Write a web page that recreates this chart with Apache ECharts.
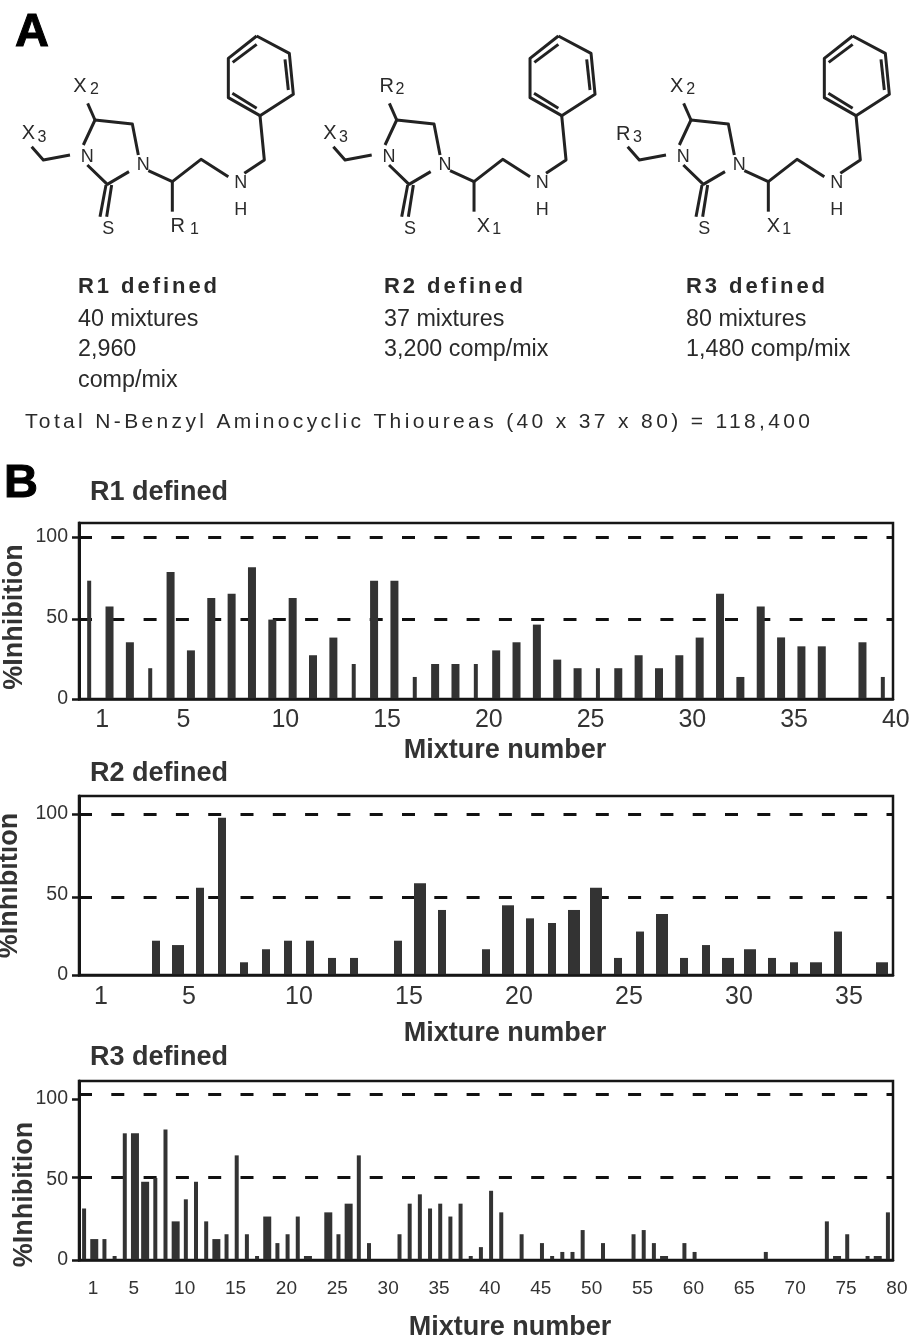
<!DOCTYPE html>
<html>
<head>
<meta charset="utf-8">
<style>html,body{margin:0;padding:0;background:#fff}#main{width:911px;height:1336px}</style>
<script src="https://cdn.jsdelivr.net/npm/echarts@6/dist/echarts.min.js"></script>
</head>
<body>
<div id="main"></div>
<script>
// ---- Data ----
const r1Values = [73,57,35,19,78.4,30,62.3,65,81.3,49,62.3,27,37.9,21.6,73,73,13.6,21.6,21.6,21.6,30,35,45.9,24.3,19,19,19,27,19,27,37.9,65,13.6,57,38,32.5,32.5,0,35,13.6];
const r2Values = [0,0,0,21.3,18.6,54.2,97.7,7.9,16,21.3,21.3,10.6,10.6,0,21.3,57,40.4,0,16,43.3,35.2,32.3,40.4,54.2,10.6,27,37.9,10.6,18.6,10.6,16,10.6,7.9,7.9,27,0,7.9];
const r3Values = [32,13,13,2.5,78.7,78.7,48.6,51,81,24,37.7,48.6,24,13,16,65,16,2.5,27,10.5,16,27,2.5,0,29.6,16,35,65,10.5,0,0,16,35,40.8,32,35,27,35,2.5,8,43,29.6,0,16,0,10.5,2.5,5,5,18.6,0,10.5,0,0,16,18.6,10.5,2.5,0,10.5,5,0,0,0,0,0,0,5,0,0,0,0,0,24,2.5,16,0,2.5,2.5,29.6];
const r1Alt = [1,4,14,17,20,26,40];
const r2Alt = [5,16,20,23,24,27,30,31,34,37];
const r3Alt = [2,6,7,10,14,19,23,25,27,58,75,79];
const r1Ticks = [1,5,10,15,20,25,30,35,40];
const r2Ticks = [1,5,10,15,20,25,30,35];
const r3Ticks = [1,5,10,15,20,25,30,35,40,45,50,55,60,65,70,75,80];
const yLabels = [0,50,100];
const r1Levels = [100,49];
const r2Levels = [100,48.5];
const r3Levels = [103,51.5];
const xName = 'Mixture number';
const yName = '%Inhibition';

// Letter-spaced captions of the figure (target widths in px)
const spaced = {
  'R1 defined':139,'R2 defined':139,'R3 defined':139,
  'Total N-Benzyl Aminocyclic Thioureas (40 x 37 x 80) = 118,400':785
};
const nativeFill = CanvasRenderingContext2D.prototype.fillText;
CanvasRenderingContext2D.prototype.fillText = function(t,x,y,m){
  if (spaced[t] && /\b2[12]px/.test(this.font)) {
    this.letterSpacing='0px';
    const w=this.measureText(t).width;
    this.letterSpacing=((spaced[t]-w)/(t.length-1)).toFixed(3)+'px';
    nativeFill.call(this,t,x,y);
    this.letterSpacing='0px';
    return;
  }
  return m===undefined?nativeFill.call(this,t,x,y):nativeFill.call(this,t,x,y,m);
};

// ---- Panels ----
const panels = [
 {values:r1Values,alt:r1Alt,ticks:r1Ticks,levels:r1Levels,title:'R1 defined',titleTop:479,top:523,height:176,max:108.6,
  stdW:8,altW:4,font:25,margin:9,tickLen:3,labelPad:26,nameGap:38,namePad:38,yGap:51,yPad:12},
 {values:r2Values,alt:r2Alt,ticks:r2Ticks,levels:r2Levels,title:'R2 defined',titleTop:760,top:796,height:179,max:111.2,
  stdW:8,altW:12,font:25,margin:10,tickLen:8,labelPad:22,nameGap:45,namePad:38,yGap:56,yPad:0},
 {values:r3Values,alt:r3Alt,ticks:r3Ticks,levels:r3Levels,title:'R3 defined',titleTop:1044,top:1081,height:179,max:111.2,
  stdW:4,altW:8,font:19,margin:19,tickLen:3,labelPad:18,nameGap:54,namePad:48,yGap:41,yPad:48}
];
const INK='#333', FRAME='#161616';
const grids=[],xAxes=[],yAxes=[],series=[],titles=[];
panels.forEach((p,i)=>{
  const cats=p.values.map((_,k)=>String(k+1));
  grids.push({left:79,width:814,top:p.top,height:p.height,outerBoundsMode:'none',containLabel:false,show:true,borderColor:FRAME,borderWidth:2.5,backgroundColor:'transparent'});
  titles.push({text:p.title,left:90,top:p.titleTop,padding:0,textStyle:{fontFamily:'Liberation Sans',fontWeight:'bold',fontSize:27,color:INK}});
  const showLabel=(idx)=>p.ticks.indexOf(idx+1)>=0;
  xAxes.push({gridIndex:i,type:'category',data:cats,position:'bottom',z:3,
    name:xName,nameLocation:'middle',nameGap:p.nameGap,nameMoveOverlap:false,
    nameTextStyle:{fontFamily:'Liberation Sans',fontWeight:'bold',fontSize:27,color:INK,padding:[0,0,0,p.namePad]},
    axisLine:{lineStyle:{color:FRAME,width:2.5}},
    axisTick:{alignWithLabel:true,length:p.tickLen,interval:(idx)=>idx>0&&showLabel(idx),lineStyle:{color:FRAME,width:2}},
    axisLabel:{interval:(idx)=>showLabel(idx),hideOverlap:false,margin:p.margin,fontFamily:'Liberation Sans',fontSize:p.font,color:INK,padding:[0,0,0,p.labelPad]},
    splitLine:{show:false}});
  xAxes.push({gridIndex:i,type:'category',data:cats,show:false});
  yAxes.push({gridIndex:i,type:'value',min:0,max:p.max,
    name:yName,nameLocation:'middle',nameGap:p.yGap,nameRotate:90,nameMoveOverlap:false,
    nameTextStyle:{fontFamily:'Liberation Sans',fontWeight:'bold',fontSize:27,color:INK,padding:[0,p.yPad,0,0]},
    axisLine:{show:true,lineStyle:{color:FRAME,width:3}},
    axisTick:{show:true,length:7,customValues:[0,p.levels[1],100],lineStyle:{color:FRAME,width:2.5}},
    axisLabel:{customValues:yLabels,margin:11,fontFamily:'Liberation Sans',fontSize:19.5,color:INK},
    splitLine:{show:false}});
  const std=p.values.map((v,k)=>p.alt.indexOf(k+1)<0?v:null);
  const alt=p.values.map((v,k)=>p.alt.indexOf(k+1)>=0?v:null);
  series.push({type:'bar',name:p.title,xAxisIndex:2*i,yAxisIndex:i,data:std,barWidth:p.stdW,itemStyle:{color:INK},z:2,
    markLine:{silent:true,symbol:'none',z:1,label:{show:false},
      lineStyle:{color:'#111',width:3,type:[13,19.3]},
      data:p.levels.map(l=>({yAxis:l}))}});
  series.push({type:'bar',name:p.title,xAxisIndex:2*i+1,yAxisIndex:i,data:alt,barWidth:p.altW,itemStyle:{color:INK},z:2});
});

// ---- Panel A: structures (drawn in 3x-zoom units, scaled by 1/3) ----
const ringBonds=[
 [[770,108],[868,160],[880,283],[780,347],[685,293],[685,175],[770,108]],
 [[770,133],[698,187]],[[855,178],[865,270]],[[697,280],[770,325]],
 [[780,347],[793,480],[733,520]],[[685,530],[603,478],[517,545],[445,512]],[[517,545],[517,635]],
 [[415,465],[397,372],[285,360],[250,435]],[[285,360],[263,310]],[[210,465],[130,480],[95,440]],
 [[262,495],[322,553],[387,515]],[[318,555],[300,650]],[[335,555],[320,650]]
];
const atoms=[['N',262,472],['N',430,495],['N',722,548],['H',722,630],['S',325,688]];
const structures=[
 {dx:0,labels:[['X',240,258],['2',283,270,1],['X',85,400],['3',126,412,1],['R',533,678],['1',583,690,1]]},
 {dx:301.7,labels:[['R',255,258],['2',295,270,1],['X',85,400],['3',125,412,1],['X',545,678],['1',585,690,1]]},
 {dx:596,labels:[['X',242,258],['2',284,270,1],['R',82,402],['3',124,412,1],['X',532,678],['1',572,690,1]]}
];
const graphics=[];
const txt=(t,x,y,font,extra)=>({type:'text',silent:true,style:Object.assign({text:t,x,y,font,fill:'#2a2a2a',textAlign:'left',textVerticalAlign:'middle'},extra||{})});
structures.forEach(s=>{
  ringBonds.forEach(b=>graphics.push({type:'polyline',silent:true,shape:{points:b.map(q=>[q[0]/3+s.dx,q[1]/3])},style:{stroke:'#222',lineWidth:3,fill:null,lineJoin:'round'}}));
  atoms.forEach(a=>graphics.push(txt(a[0],a[1]/3+s.dx,a[2]/3,'18px "Liberation Sans"',{textAlign:'center'})));
  s.labels.forEach(a=>graphics.push(txt(a[0],a[1]/3+s.dx,a[2]/3,a[3]?'16px "Liberation Sans"':'20px "Liberation Sans"',{textAlign:'center'})));
});
[['R1 defined',78],['R2 defined',384],['R3 defined',686]]
  .forEach(c=>graphics.push(txt(c[0],c[1],287,'bold 22px "Liberation Sans"')));
[['40 mixtures',78,320],['2,960',78,350],['comp/mix',78,381],['37 mixtures',384,320],['3,200 comp/mix',384,350],['80 mixtures',686,320],['1,480 comp/mix',686,350]]
  .forEach(c=>graphics.push(txt(c[0],c[1],c[2],'23.3px "Liberation Sans"')));
graphics.push(txt('Total N-Benzyl Aminocyclic Thioureas (40 x 37 x 80) = 118,400',25,422,'21px "Liberation Sans"'));
graphics.push(txt('A',15,33,'bold 47px "Liberation Sans"',{fill:'#000',stroke:'#000',lineWidth:1}));
graphics.push(txt('B',4,484,'bold 47px "Liberation Sans"',{fill:'#000',stroke:'#000',lineWidth:1}));

const chart=echarts.init(document.getElementById('main'),null,{renderer:'canvas'});
chart.setOption({animation:false,backgroundColor:'#fff',title:titles,grid:grids,xAxis:xAxes,yAxis:yAxes,series:series,graphic:{elements:graphics}});
</script>
</body>
</html>
